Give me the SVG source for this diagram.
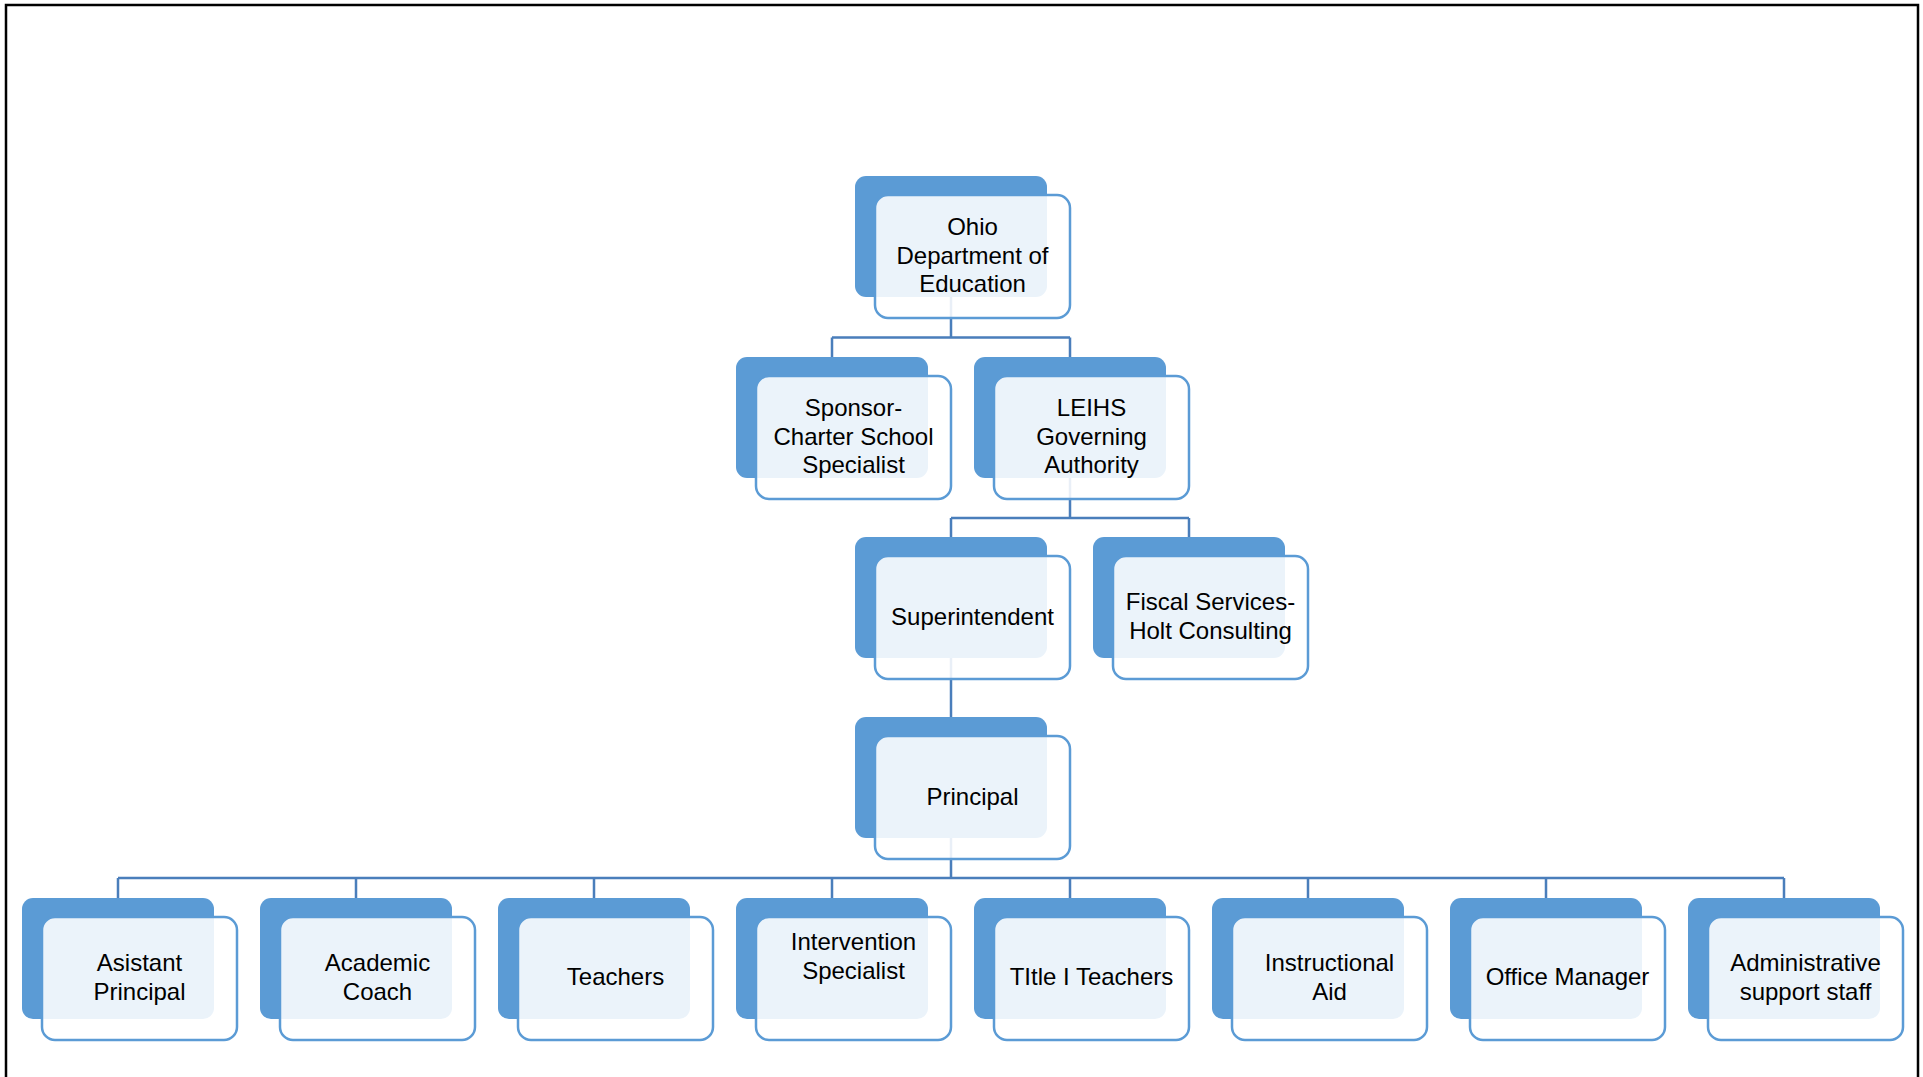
<svg xmlns="http://www.w3.org/2000/svg" width="1923" height="1077" viewBox="0 0 1923 1077">
<style>
.back{fill:#5b9bd5;}
.front{fill:#ffffff;fill-opacity:0.88;stroke:#5b9bd5;stroke-width:2.5;}
.lbl{font-family:"Liberation Sans",Arial,sans-serif;font-size:24px;fill:#000;text-anchor:middle;}
.conn{fill:none;stroke:#4a7ebb;stroke-width:2.5;}
.frame{fill:none;stroke:#000;stroke-width:2.5;}
</style>
<rect width="1923" height="1077" fill="#fff"/>
<path class="frame" d="M6,1077 V5 H1918 V1077"/>
<g id="connectors">
<path class="conn" d="M951,297 V337.5 M832,337.5 H1070 M832,337.5 V357 M1070,337.5 V357"/>
<path class="conn" d="M1070,478 V518 M951,518 H1189 M951,518 V537 M1189,518 V537"/>
<path class="conn" d="M951,658 V717"/>
<path class="conn" d="M951,838 V878 M118,878 H1784 M118,878 V898 M356,878 V898 M594,878 V898 M832,878 V898 M1070,878 V898 M1308,878 V898 M1546,878 V898 M1784,878 V898"/>
</g>
<g id="n-ohio">
<rect class="back" x="855" y="176" width="192" height="121" rx="11"/>
<rect class="front" x="875" y="195" width="195" height="123" rx="13"/>
<text class="lbl"><tspan x="972.5" y="235.2">Ohio</tspan><tspan x="972.5" y="263.6">Department of</tspan><tspan x="972.5" y="292">Education</tspan></text>
</g>
<g id="n-sponsor">
<rect class="back" x="736" y="357" width="192" height="121" rx="11"/>
<rect class="front" x="756" y="376" width="195" height="123" rx="13"/>
<text class="lbl"><tspan x="853.5" y="416.2">Sponsor-</tspan><tspan x="853.5" y="444.6">Charter School</tspan><tspan x="853.5" y="473">Specialist</tspan></text>
</g>
<g id="n-leihs">
<rect class="back" x="974" y="357" width="192" height="121" rx="11"/>
<rect class="front" x="994" y="376" width="195" height="123" rx="13"/>
<text class="lbl"><tspan x="1091.5" y="416.2">LEIHS</tspan><tspan x="1091.5" y="444.6">Governing</tspan><tspan x="1091.5" y="473">Authority</tspan></text>
</g>
<g id="n-superintendent">
<rect class="back" x="855" y="537" width="192" height="121" rx="11"/>
<rect class="front" x="875" y="556" width="195" height="123" rx="13"/>
<text class="lbl" x="972.5" y="624.6">Superintendent</text>
</g>
<g id="n-fiscal">
<rect class="back" x="1093" y="537" width="192" height="121" rx="11"/>
<rect class="front" x="1113" y="556" width="195" height="123" rx="13"/>
<text class="lbl"><tspan x="1210.5" y="610.4">Fiscal Services-</tspan><tspan x="1210.5" y="638.8">Holt Consulting</tspan></text>
</g>
<g id="n-principal">
<rect class="back" x="855" y="717" width="192" height="121" rx="11"/>
<rect class="front" x="875" y="736" width="195" height="123" rx="13"/>
<text class="lbl" x="972.5" y="804.6">Principal</text>
</g>
<g id="n-asst">
<rect class="back" x="22" y="898" width="192" height="121" rx="11"/>
<rect class="front" x="42" y="917" width="195" height="123" rx="13"/>
<text class="lbl"><tspan x="139.5" y="971.4">Asistant</tspan><tspan x="139.5" y="1000.4">Principal</tspan></text>
</g>
<g id="n-coach">
<rect class="back" x="260" y="898" width="192" height="121" rx="11"/>
<rect class="front" x="280" y="917" width="195" height="123" rx="13"/>
<text class="lbl"><tspan x="377.5" y="971.4">Academic</tspan><tspan x="377.5" y="1000.4">Coach</tspan></text>
</g>
<g id="n-teachers">
<rect class="back" x="498" y="898" width="192" height="121" rx="11"/>
<rect class="front" x="518" y="917" width="195" height="123" rx="13"/>
<text class="lbl" x="615.5" y="985.1">Teachers</text>
</g>
<g id="n-intervention">
<rect class="back" x="736" y="898" width="192" height="121" rx="11"/>
<rect class="front" x="756" y="917" width="195" height="123" rx="13"/>
<text class="lbl"><tspan x="853.5" y="949.8">Intervention</tspan><tspan x="853.5" y="978.8">Specialist</tspan></text>
</g>
<g id="n-title1">
<rect class="back" x="974" y="898" width="192" height="121" rx="11"/>
<rect class="front" x="994" y="917" width="195" height="123" rx="13"/>
<text class="lbl" x="1091.5" y="985.1">TItle I Teachers</text>
</g>
<g id="n-aid">
<rect class="back" x="1212" y="898" width="192" height="121" rx="11"/>
<rect class="front" x="1232" y="917" width="195" height="123" rx="13"/>
<text class="lbl"><tspan x="1329.5" y="971.4">Instructional</tspan><tspan x="1329.5" y="1000.4">Aid</tspan></text>
</g>
<g id="n-office">
<rect class="back" x="1450" y="898" width="192" height="121" rx="11"/>
<rect class="front" x="1470" y="917" width="195" height="123" rx="13"/>
<text class="lbl" x="1567.5" y="985.1">Office Manager</text>
</g>
<g id="n-admin">
<rect class="back" x="1688" y="898" width="192" height="121" rx="11"/>
<rect class="front" x="1708" y="917" width="195" height="123" rx="13"/>
<text class="lbl"><tspan x="1805.5" y="971.4">Administrative</tspan><tspan x="1805.5" y="1000.4">support staff</tspan></text>
</g>
</svg>
